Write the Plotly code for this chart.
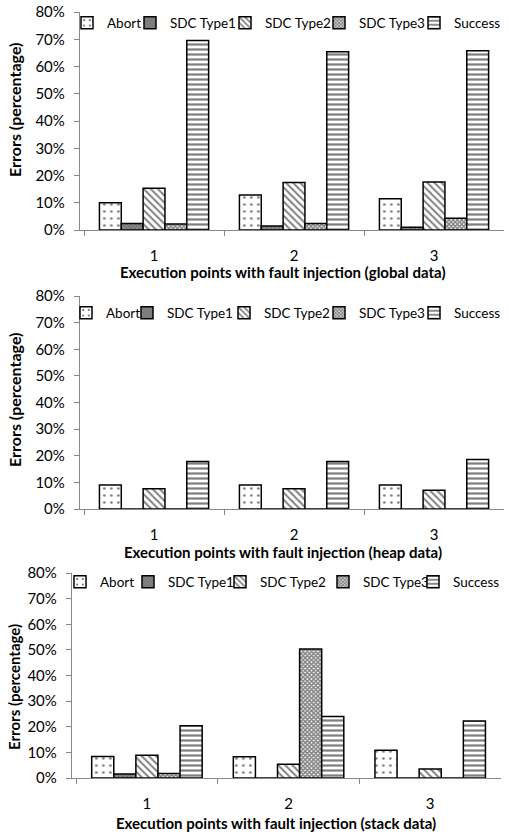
import plotly.graph_objects as go

categories = ["1", "2", "3"]
series_names = ["Abort", "SDC Type1", "SDC Type2", "SDC Type3", "Success"]

global_abort = [10.0, 12.8, 11.5]
global_sdc1 = [2.4, 1.5, 1.0]
global_sdc2 = [15.3, 17.4, 17.6]
global_sdc3 = [2.2, 2.4, 4.3]
global_success = [69.5, 65.4, 65.8]

heap_abort = [9.0, 9.0, 9.0]
heap_sdc1 = [0, 0, 0]
heap_sdc2 = [7.6, 7.6, 7.0]
heap_sdc3 = [0, 0, 0]
heap_success = [17.8, 17.8, 18.6]

stack_abort = [8.4, 8.3, 10.8]
stack_sdc1 = [1.6, 0, 0]
stack_sdc2 = [8.9, 5.4, 3.5]
stack_sdc3 = [1.8, 50.3, 0]
stack_success = [20.4, 24.0, 22.2]

y_ticks = [0, 10, 20, 30, 40, 50, 60, 70, 80]
y_ticktext = [f"{v}%" for v in y_ticks]
y_title = "Errors (percentage)"
x_titles = [
    "Execution points with fault injection (global data)",
    "Execution points with fault injection (heap data)",
    "Execution points with fault injection (stack data)",
]

panels = [
    [global_abort, global_sdc1, global_sdc2, global_sdc3, global_success],
    [heap_abort, heap_sdc1, heap_sdc2, heap_sdc3, heap_success],
    [stack_abort, stack_sdc1, stack_sdc2, stack_sdc3, stack_success],
]

W, H = 509, 838
FONT = "Lato"

patterns = [
    dict(shape=".", fgcolor="black", bgcolor="white", size=7, solidity=0.12),
    dict(shape="x", fgcolor="#333333", bgcolor="#8a8a8a", size=3, solidity=0.35),
    dict(shape="\\", fgcolor="black", bgcolor="white", size=5, solidity=0.4),
    dict(shape="x", fgcolor="black", bgcolor="white", size=3, solidity=0.7),
    dict(shape="-", fgcolor="black", bgcolor="white", size=5, solidity=0.45),
]

# layout geometry (pixels)
geo = [(80, 505, 12, 230), (80, 505, 296, 509), (72, 502, 573, 778)]
legend_y = [23, 313, 582]
legend_text_x = [
    [107, 170, 265, 359, 455],
    [106, 167, 264, 359, 455],
    [100, 168, 260, 363, 453],
]
entry_w = [42, 70, 70, 70, 50]
xtitle_pos = [(284, 272), (284, 552), (277, 823)]
ytitle_pos = [(15, 110, 16), (15, 400, 16), (14, 687, 15)]

fig = go.Figure()
layout = dict(
    width=W, height=H, margin=dict(l=0, r=0, t=0, b=0),
    paper_bgcolor="white", plot_bgcolor="white", showlegend=True,
    barmode="group", bargap=0.22, bargroupgap=0,
    font=dict(family=FONT, size=15, color="black"),
)
annotations = []

leg_idx = 0
for p, vals in enumerate(panels):
    xa = "x" if p == 0 else f"x{p+1}"
    ya = "y" if p == 0 else f"y{p+1}"
    for s, name in enumerate(series_names):
        leg_idx += 1
        legname = "legend" if leg_idx == 1 else f"legend{leg_idx}"
        fig.add_trace(go.Bar(
            x=categories, y=vals[s], name=name, xaxis=xa, yaxis=ya,
            legend=legname, offsetgroup=str(s), showlegend=True,
            marker=dict(color="white", line=dict(color="black", width=1.5),
                        pattern=patterns[s]),
        ))
        layout[legname] = dict(
            x=(legend_text_x[p][s] - 40) / W, xanchor="left",
            y=1 - legend_y[p] / H, yanchor="middle",
            orientation="h", entrywidth=entry_w[s], entrywidthmode="pixels",
            bgcolor="rgba(0,0,0,0)", borderwidth=0,
            font=dict(family=FONT, size=13.5, color="black"),
            itemwidth=30, visible=True,
        )
    xl, xr, yt, yb = geo[p]
    xkey = "xaxis" if p == 0 else f"xaxis{p+1}"
    ykey = "yaxis" if p == 0 else f"yaxis{p+1}"
    layout[xkey] = dict(
        domain=[xl / W, xr / W], anchor=ya, type="category",
        range=[-0.53, 2.5], showline=True, linecolor="#888888", linewidth=1,
        ticks="outside", tickson="boundaries", ticklen=5, tickcolor="#888888",
        showgrid=False, zeroline=False, ticklabelstandoff=12,
        tickfont=dict(family=FONT, size=15, color="black"),
        automargin=False,
    )
    layout[ykey] = dict(
        domain=[1 - yb / H, 1 - yt / H], anchor=xa,
        range=[0, 80], tickmode="array", tickvals=y_ticks, ticktext=y_ticktext,
        showline=True, linecolor="#888888", linewidth=1,
        ticks="outside", ticklen=5, tickcolor="#888888",
        showgrid=False, zeroline=False, ticklabelstandoff=6,
        tickfont=dict(family=FONT, size=15, color="black"),
        automargin=False,
    )
    tx, ty = xtitle_pos[p]
    annotations.append(dict(
        text=x_titles[p], xref="paper", yref="paper", x=tx / W, y=1 - ty / H,
        xanchor="center", yanchor="middle", showarrow=False,
        font=dict(family=FONT, size=15, color="black", weight="bold"),
    ))
    yx, yy, yfs = ytitle_pos[p]
    annotations.append(dict(
        text=y_title, xref="paper", yref="paper", x=yx / W, y=1 - yy / H,
        xanchor="center", yanchor="middle", showarrow=False, textangle=-90,
        font=dict(family=FONT, size=yfs, color="black", weight="bold"),
    ))

layout["annotations"] = annotations
fig.update_layout(**layout)
fig.write_html(
    "out.html",
    config={"displayModeBar": False},
    post_script="document.body.style.margin='0px';document.body.style.overflow='hidden';",
)
